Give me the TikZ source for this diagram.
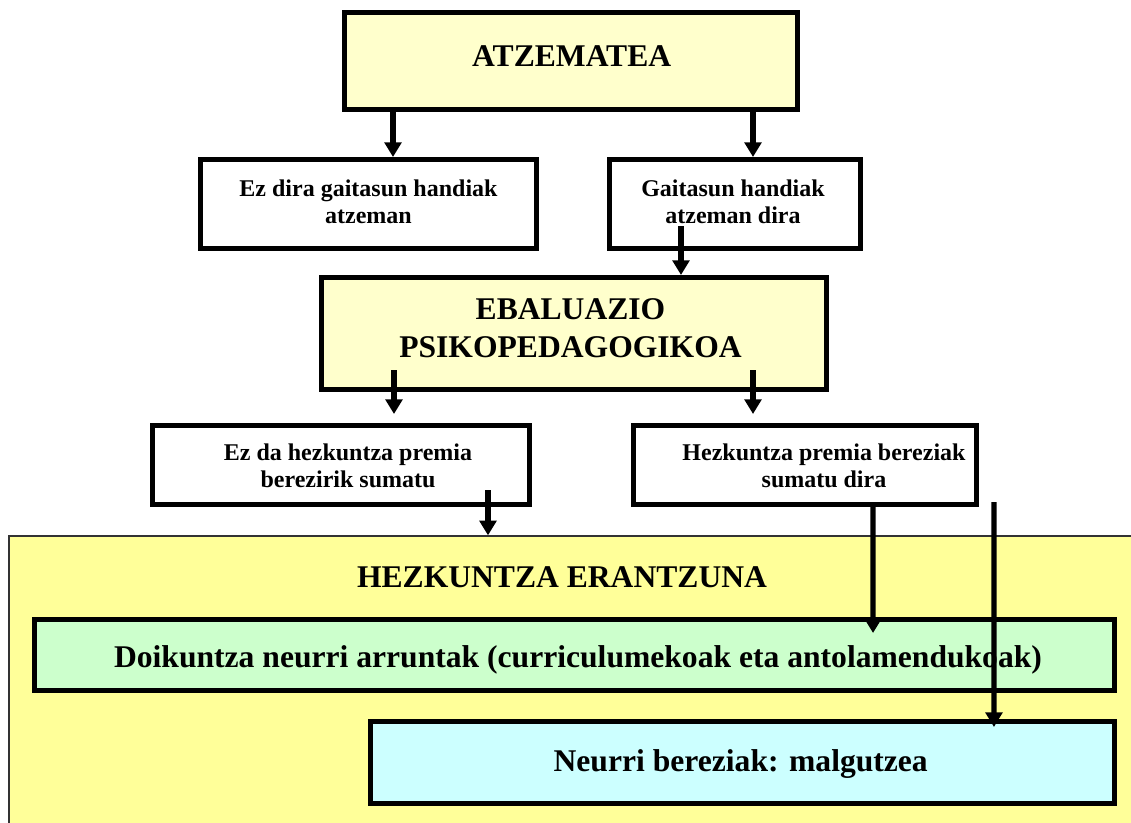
\documentclass[tikz,border=0pt]{standalone}
\usepackage{fontspec}
\setmainfont{Liberation Serif}
\usetikzlibrary{arrows.meta}
\definecolor{paleyellow}{HTML}{FFFFCC}
\definecolor{areayellow}{HTML}{FFFF99}
\definecolor{palegreen}{HTML}{CCFFCC}
\definecolor{palecyan}{HTML}{CCFFFF}
\tikzset{
  box/.style={draw, line width=4pt, inner sep=0pt},
  area/.style={draw=black!80, line width=1pt, fill=areayellow, inner sep=0pt},
  bigtxt/.style={font=\fontsize{23.7}{28.5}\selectfont\bfseries, align=center, inner sep=0pt},
  smalltxt/.style={font=\fontsize{18}{20}\selectfont\bfseries, align=center, inner sep=0pt},
  arr/.style={line width=4pt, -{Triangle[width=12.5pt,length=11pt]}}
}
\begin{document}
\begin{tikzpicture}[x=0.75pt,y=-0.75pt]
\useasboundingbox (0,0) rectangle (1131,822);
% background of the answer block
\node[area, minimum width=852pt, minimum height=224.25pt] (resp) at (577,685.5) {};
\node[bigtxt] (respt) at (562,577.6) {HEZKUNTZA ERANTZUNA};
% boxes
\node[box, fill=paleyellow, minimum width=339.5pt, minimum height=72.5pt] (atz) at (571,61) {};
\node[box, fill=white, minimum width=251.75pt, minimum height=66.5pt] (b1) at (368.5,204) {};
\node[box, fill=white, minimum width=188pt, minimum height=66.5pt] (b2) at (735,204) {};
\node[box, fill=paleyellow, minimum width=378.5pt, minimum height=83.75pt] (ebal) at (574,333.5) {};
\node[box, fill=white, minimum width=282.5pt, minimum height=59pt] (b3) at (341,465) {};
\node[box, fill=white, minimum width=257pt, minimum height=59pt] (b4) at (805,465) {};
\node[box, fill=palegreen, minimum width=809.75pt, minimum height=53pt] (neur) at (574.5,655) {};
\node[box, fill=palecyan, minimum width=557.75pt, minimum height=61.25pt] (berez) at (742.5,762.5) {};
% texts
\node[bigtxt] (atzt) at (571.7,55.6) {ATZEMATEA};
\node[smalltxt] (b1t) at (368.5,201.7) {Ez dira gaitasun handiak\\atzeman};
\node[smalltxt] (b2t) at (733,201.7) {Gaitasun handiak\\atzeman dira};
\node[bigtxt] (ebalt) at (570.5,328.5) {EBALUAZIO\\PSIKOPEDAGOGIKOA};
\node[smalltxt] (b3t) at (348,466) {Ez da hezkuntza premia\\berezirik sumatu};
\node[smalltxt] (b4t) at (824,466) {Hezkuntza premia bereziak\\sumatu dira};
\node[bigtxt] (neurt) at (578,659.4) {Doikuntza neurri arruntak (curriculumekoak eta antolamendukoak)};
\node[bigtxt] (bereztt) at (740.7,764.3) {Neurri bereziak: malgutzea};
% arrows
\draw[arr] ([xshift=-133.5pt]atz.south) -- ([xshift=18.375pt]b1.north);
\draw[arr] ([xshift=136.5pt]atz.south) -- ([xshift=13.5pt]b2.north);
\draw[arr] ([xshift=-40.5pt,yshift=18.75pt]b2.south) -- ([xshift=80.25pt]ebal.north);
\draw[arr] ([xshift=-135pt,yshift=16.5pt]ebal.south) -- ([xshift=39.75pt,yshift=6.75pt]b3.north);
\draw[arr] ([xshift=134.25pt,yshift=16.5pt]ebal.south) -- ([xshift=-39pt,yshift=6.75pt]b4.north);
\draw[arr] ([xshift=110.25pt,yshift=12.75pt]b3.south) -- ([xshift=-66.75pt]resp.north);
\draw[arr] ([xshift=51pt,yshift=3.75pt]b4.south) -- ([xshift=223.9pt,yshift=-12pt]neur.north);
\draw[arr] ([xshift=141.75pt,yshift=3.75pt]b4.south) -- ([xshift=188.6pt,yshift=-6pt]berez.north);
\end{tikzpicture}
\end{document}
